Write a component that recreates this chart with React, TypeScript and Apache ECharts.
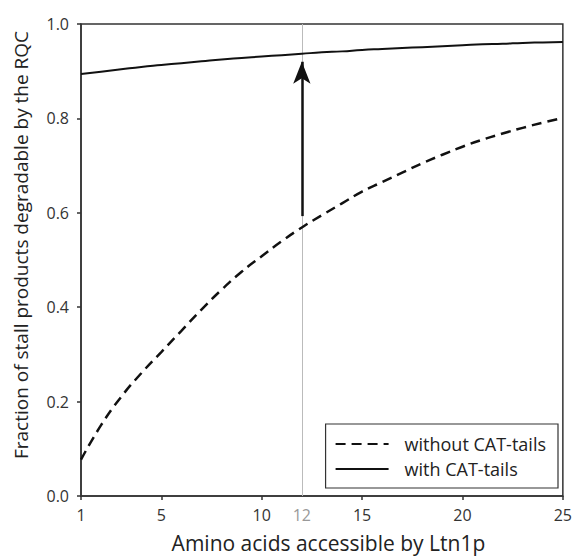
import React, { useEffect, useRef } from "react";
import * as echarts from "echarts";

const xValues = [1, 2, 3, 4, 5, 6, 7, 8, 9, 10, 11, 12, 13, 14, 15, 16, 17, 18, 19, 20, 21, 22, 23, 24, 25];
const withoutCat = [0.077, 0.15, 0.21, 0.26, 0.305, 0.35, 0.395, 0.437, 0.475, 0.508, 0.54, 0.569, 0.595, 0.62, 0.645, 0.665, 0.685, 0.705, 0.723, 0.74, 0.755, 0.768, 0.78, 0.791, 0.801];
const withCat = [0.894, 0.899, 0.904, 0.909, 0.913, 0.917, 0.921, 0.925, 0.928, 0.931, 0.934, 0.937, 0.94, 0.942, 0.945, 0.947, 0.949, 0.951, 0.953, 0.955, 0.957, 0.958, 0.96, 0.961, 0.962];
const xTickLabels = [1, 5, 10, 12, 15, 20, 25];
const xTicks = [1, 5, 10, 15, 20, 25];
const highlightX = 12;
const arrowFrom = 0.593;
const arrowTo = 0.92;

const FONT = "Open Sans";

export default function App() {
  const ref = useRef<HTMLDivElement>(null);
  useEffect(() => {
    if (!ref.current) return;
    const chart = echarts.init(ref.current, undefined, { renderer: "svg" });
    chart.setOption({
      animation: false,
      backgroundColor: "#fff",
      textStyle: { fontFamily: FONT },
      grid: {
        left: 81,
        right: 8,
        top: 24,
        bottom: 60,
        show: true,
        borderColor: "#333",
        borderWidth: 1.5,
      },
      legend: {
        orient: "vertical",
        right: 17,
        bottom: 70,
        itemWidth: 53,
        itemHeight: 14,
        itemGap: 7,
        padding: [11, 12, 10, 9],
        borderColor: "#333",
        borderWidth: 1.2,
        backgroundColor: "#fff",
        itemStyle: { opacity: 0 },
        textStyle: { fontFamily: FONT, fontSize: 18, color: "#222", padding: [0, 0, 0, 11] },
        data: ["without CAT-tails", "with CAT-tails"],
      },
      xAxis: {
        type: "value",
        min: 1,
        max: 25,
        name: "Amino acids accessible by Ltn1p",
        nameLocation: "middle",
        nameGap: 36,
        nameTextStyle: { fontFamily: FONT, fontSize: 21, color: "#222", padding: [0, 0, 0, 13] },
        axisLine: { lineStyle: { color: "#333", width: 1.5 } },
        axisTick: { show: true, length: 4, customValues: xTicks, lineStyle: { color: "#333", width: 1.5 } },
        axisLabel: {
          customValues: xTickLabels,
          margin: 11,
          fontFamily: FONT,
          fontSize: 16,
          color: "#333",
          formatter: (v: number) => (v === highlightX ? "{g|" + v + "}" : String(v)),
          rich: { g: { color: "#999", fontSize: 16, fontFamily: FONT } },
        },
        splitLine: { show: false },
      },
      yAxis: {
        type: "value",
        min: 0,
        max: 1,
        interval: 0.2,
        name: "Fraction of stall products degradable by the RQC",
        nameLocation: "middle",
        nameGap: 51,
        nameTextStyle: { fontFamily: FONT, fontSize: 19, color: "#222", padding: [0, 0, 0, 30] },
        axisLine: { show: true, lineStyle: { color: "#333", width: 1.5 } },
        axisTick: { show: true, length: 4, lineStyle: { color: "#333", width: 1.5 } },
        axisLabel: {
          margin: 12,
          fontFamily: FONT,
          fontSize: 16,
          color: "#333",
          formatter: (v: number) => v.toFixed(1),
        },
        splitLine: { show: false },
      },
      series: [
        {
          name: "without CAT-tails",
          type: "line",
          data: xValues.map((x, i) => [x, withoutCat[i]]),
          symbol: "none",
          smooth: true,
          lineStyle: { color: "#111", width: 2.5, type: [10, 6] },
          itemStyle: { color: "#111" },
          z: 3,
          markLine: {
            silent: true,
            symbol: ["none", "none"],
            label: { show: false },
            lineStyle: { color: "#bbb", width: 1, type: "solid" },
            data: [{ xAxis: highlightX }],
            z: 1,
          },
        },
        {
          name: "with CAT-tails",
          type: "line",
          data: xValues.map((x, i) => [x, withCat[i]]),
          symbol: "none",
          smooth: true,
          lineStyle: { color: "#111", width: 2, type: "solid" },
          itemStyle: { color: "#111" },
          z: 3,
          markLine: {
            silent: true,
            symbol: ["none", "arrow"],
            symbolSize: [13, 22],
            label: { show: false },
            lineStyle: { color: "#111", width: 2.5, type: "solid" },
            data: [[{ coord: [highlightX, arrowFrom] }, { coord: [highlightX, arrowTo] }]],
            z: 4,
          },
        },
      ],
    });
    return () => chart.dispose();
  }, []);
  return <div ref={ref} style={{ width: 575, height: 558, position: "absolute", left: 0, top: 0 }} />;
}
